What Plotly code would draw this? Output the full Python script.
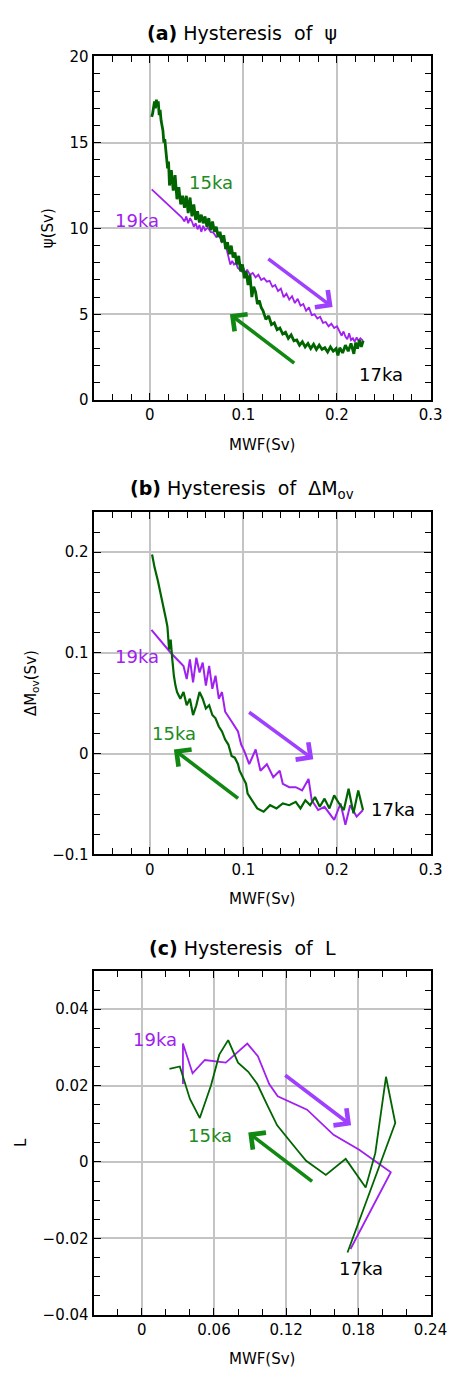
import plotly.graph_objects as go

# ---------------- data ----------------
# (a) psi vs MWF
a_green_x = [0.228,0.226,0.224,0.222,0.220,0.218,0.215,0.212,0.209,0.206,0.203,0.201,0.199,0.196,0.193,0.190,0.187,0.184,0.181,0.178,
             0.175,0.172,0.169,0.166,0.163,0.160,0.157,0.154,0.151,0.148,0.145,0.142,0.139,0.136,0.133,0.130,0.127,0.124,0.121,0.119,
             0.117,0.115,0.113,0.111,0.109,0.107,0.105,0.103,0.101,0.099,0.097,0.095,0.093,0.091,0.089,0.087,0.085,0.083,0.081,0.079,
             0.077,0.075,0.073,0.071,0.069,0.067,0.065,0.063,0.061,0.059,0.057,0.055,0.053,0.051,0.049,0.047,0.045,0.043,0.041,0.039,
             0.037,0.035,0.033,0.031,0.029,0.027,0.025,0.023,0.021,0.020,0.019,0.018,0.017,0.016,0.015,0.014,0.013,0.012,0.011,0.010,
             0.009,0.008,0.007,0.006,0.005,0.004,0.003,0.002]
a_green_y = [3.45,3.1,3.5,3.0,3.35,2.7,3.3,2.85,3.2,2.75,3.05,2.6,3.0,2.85,3.1,2.8,3.05,2.95,3.2,2.95,
             3.25,3.0,3.3,3.1,3.4,3.2,3.5,3.45,3.8,3.6,3.95,3.85,4.2,4.1,4.5,4.4,4.9,4.7,5.2,5.4,
             5.8,5.6,6.3,6.6,6.0,7.3,6.7,7.5,7.1,7.9,7.5,8.4,7.9,8.6,8.3,9.0,8.5,9.2,8.8,9.6,
             9.2,9.8,9.5,10.1,9.8,10.4,9.9,10.6,10.1,10.7,10.3,10.8,10.35,11.0,10.5,11.4,10.7,11.8,10.9,11.9,
             11.2,11.9,11.4,12.4,11.7,13.1,12.2,13.4,12.5,13.9,13.5,14.3,14.6,15.2,15.0,15.7,16.0,16.3,16.9,16.6,
             17.4,17.1,17.5,17.0,17.4,16.9,16.7,16.5]
a_purple_x = [0.002,0.010,0.018,0.026,0.034,0.037,0.039,0.041,0.043,0.045,0.047,0.049,0.051,0.053,0.055,0.057,0.059,0.062,0.065,0.068,
              0.071,0.074,0.077,0.080,0.082,0.084,0.086,0.088,0.090,0.092,0.094,0.096,0.098,0.100,0.102,0.104,0.107,0.110,0.113,0.116,
              0.119,0.122,0.125,0.128,0.131,0.134,0.137,0.140,0.143,0.146,0.149,0.152,0.155,0.158,0.161,0.164,0.167,0.170,0.173,0.176,
              0.179,0.182,0.185,0.188,0.191,0.194,0.197,0.200,0.203,0.205,0.207,0.209,0.211,0.213,0.215,0.217,0.219,0.221,0.223,0.225,0.228]
a_purple_y = [12.28,11.85,11.45,11.05,10.65,10.4,10.7,10.3,10.6,10.4,10.1,10.3,9.95,10.2,9.8,10.15,9.9,10.05,9.8,9.75,
              9.5,9.6,9.2,9.3,8.8,8.3,7.9,8.1,7.9,8.0,7.7,7.6,7.5,7.7,7.4,7.6,7.3,7.4,7.15,7.3,
              7.0,7.1,6.9,6.95,6.6,6.7,6.35,6.5,6.0,6.2,5.85,6.05,5.65,5.9,5.5,5.6,5.2,5.4,4.95,5.0,
              4.75,4.85,4.5,4.55,4.3,4.45,4.2,4.3,3.95,3.75,4.0,3.7,3.55,3.9,3.5,3.6,3.4,3.65,3.45,3.6,3.45]

# (b) Delta M_ov vs MWF
b_green_x = [0.2278,0.2227,0.2176,0.2124,0.2073,0.2022,0.1970,0.1919,0.1867,0.1816,0.1765,0.1713,0.1662,0.1610,0.1559,0.1490,0.1421,
             0.1354,0.1285,0.1216,0.1148,0.1096,0.1045,0.1028,0.0994,0.0959,0.0942,0.0908,0.0874,0.0839,0.0805,0.0771,0.0737,0.0702,
             0.0668,0.0634,0.0599,0.0565,0.0531,0.0497,0.0462,0.0428,0.0394,0.0360,0.0326,0.0291,0.0274,0.0257,0.0240,0.0223,0.0206,
             0.0188,0.0171,0.0154,0.0120,0.0086,0.0051,0.0034,0.0024]
b_green_y = [-0.0559,-0.0364,-0.0592,-0.0348,-0.0559,-0.0494,-0.0413,-0.0543,-0.0446,-0.0527,-0.0429,-0.0511,-0.0462,-0.0543,-0.0478,-0.0511,-0.0494,
             -0.0543,-0.0511,-0.0576,-0.0543,-0.0462,-0.0397,-0.0299,-0.0234,-0.0169,-0.0104,-0.0039,-0.0023,0.0091,0.0140,0.0221,0.0270,0.0351,
             0.0384,0.0481,0.0449,0.0546,0.0612,0.0481,0.0384,0.0546,0.0481,0.0612,0.0546,0.0612,0.0676,0.0774,0.0937,0.1132,0.1034,
             0.1262,0.1343,0.1424,0.1587,0.1717,0.1847,0.1912,0.1977]
b_purple_x = [0.0017,0.0223,0.0360,0.0394,0.0428,0.0462,0.0497,0.0531,0.0565,0.0599,0.0634,0.0668,0.0702,0.0737,0.0771,0.0805,0.0874,
              0.0942,0.0976,0.1010,0.1062,0.1131,0.1182,0.1251,0.1319,0.1388,0.1421,0.1490,0.1559,0.1627,0.1696,0.1730,0.1799,0.1867,
              0.1970,0.2038,0.2090,0.2141,0.2210,0.2278]
b_purple_y = [0.1229,0.1002,0.0871,0.0741,0.0937,0.0709,0.0953,0.0807,0.0904,0.0676,0.0871,0.0644,0.0774,0.0546,0.0612,0.0417,0.0319,
              0.0221,0.0091,0.0026,-0.0104,0.0042,-0.0169,-0.0104,-0.0234,-0.0169,-0.0299,-0.0332,-0.0332,-0.0364,-0.0250,-0.0462,-0.0559,-0.0527,
              -0.0657,-0.0494,-0.0706,-0.0511,-0.0624,-0.0559]

# (c) L vs MWF
c_green_x = [0.171,0.2107,0.203,0.1941,0.1861,0.1695,0.1530,0.1446,0.1366,0.1290,0.1206,0.1125,0.1050,0.0960,0.0885,0.0800,0.0718,
             0.0644,0.0575,0.0482,0.0400,0.0316,0.023]
c_green_y = [-0.0237,0.0102,0.0223,0.0023,-0.0067,0.0008,-0.0034,-0.0015,0.0003,0.0032,0.0066,0.0096,0.0144,0.0204,0.0236,0.0260,0.0319,
             0.0281,0.0200,0.0115,0.0165,0.0250,0.0244]
c_purple_x = [0.0342,0.0342,0.0422,0.0524,0.0698,0.0877,0.0965,0.1059,0.1130,0.1374,0.1594,0.1807,0.2070,0.1735]
c_purple_y = [0.0204,0.0310,0.0232,0.0267,0.0260,0.0310,0.0277,0.0204,0.0172,0.0137,0.0071,0.0032,-0.0027,-0.0228]

# annotations: (panel, text, x, y, colour)
labels = [
    (1, "15ka", 0.065, 12.66, "#228B22"),
    (1, "19ka", -0.0137, 10.46, "#A020F0"),
    (1, "17ka", 0.2467, 1.51, "black"),
    (2, "19ka", -0.0137, 0.0969, "#A020F0"),
    (2, "15ka", 0.0257, 0.0205, "#228B22"),
    (2, "17ka", 0.260, -0.0553, "black"),
    (3, "19ka", 0.011, 0.032, "#A020F0"),
    (3, "15ka", 0.0565, 0.007, "#228B22"),
    (3, "17ka", 0.182, -0.028, "black"),
]
# arrows: (panel, tail_x, tail_y, head_x, head_y, colour)
arrows = [
    (1, 0.125, 8.29, 0.1953, 5.42, "#A040FF"),
    (1, 0.1559, 2.09, 0.0856, 5.0, "#118811"),
    (2, 0.1045, 0.0423, 0.1747, -0.0055, "#A040FF"),
    (2, 0.0959, -0.0455, 0.0257, 0.0042, "#118811"),
    (3, 0.118, 0.023, 0.174, 0.0096, "#A040FF"),
    (3, 0.1428, -0.0054, 0.0885, 0.0077, "#118811"),
]
titles = ["<b>(a)</b> Hysteresis  of  ψ", "<b>(b)</b> Hysteresis  of  ΔM<sub>ov</sub>", "<b>(c)</b> Hysteresis  of  L"]
ytitles = ["ψ(Sv)", "ΔM<sub>ov</sub>(Sv)", "L"]
xtitle = "MWF(Sv)"

# ---------------- figure ----------------
W, H = 468, 1382
FONT = "DejaVu Sans"
GREEN = "#006400"
PURPLE = "#A020F0"

fig = go.Figure()
series = [
    (a_green_x, a_green_y, a_purple_x, a_purple_y, 2.8, 1.8),
    (b_green_x, b_green_y, b_purple_x, b_purple_y, 2.2, 2.0),
    (c_green_x, c_green_y, c_purple_x, c_purple_y, 1.8, 1.8),
]
for i, (gx, gy, px, py, gw, pw) in enumerate(series, start=1):
    xa = "x" if i == 1 else f"x{i}"
    ya = "y" if i == 1 else f"y{i}"
    fig.add_trace(go.Scatter(x=px, y=py, mode="lines", line=dict(color=PURPLE, width=pw),
                             xaxis=xa, yaxis=ya, showlegend=False, hoverinfo="skip"))
    fig.add_trace(go.Scatter(x=gx, y=gy, mode="lines", line=dict(color=GREEN, width=gw),
                             xaxis=xa, yaxis=ya, showlegend=False, hoverinfo="skip"))

# pixel layout of plot areas (top, bottom)
boxes = [(49, 397), (510, 857), (975, 1323)]
xl, xr = 97, 446
xranges = [[-0.06, 0.3002], [-0.06, 0.3002], [-0.04, 0.2402]]
yranges = [[0, 20.02], [-0.1, 0.2402], [-0.04, 0.05]]
xdt = [0.1, 0.1, 0.06]
xminor = [0.02, 0.02, 0.02]
ydt = [5, 0.1, 0.02]
yminor = [1, 0.02, 0.005]

axis_common = dict(showline=True, linecolor="black", linewidth=2.2, mirror="allticks",
                   ticks="inside", ticklen=7, tickwidth=1.3, tickcolor="black",
                   showgrid=True, gridcolor="#C4C4C4", gridwidth=2, zeroline=False,
                   tickfont=dict(family=FONT, size=15, color="black"))
layout = dict(width=W, height=H, margin=dict(l=0, r=0, t=0, b=0),
              paper_bgcolor="white", plot_bgcolor="white", showlegend=False)
for i in range(3):
    t, b = boxes[i]
    suffix = "" if i == 0 else str(i + 1)
    layout["xaxis" + suffix] = dict(
        axis_common, domain=[xl / W, xr / W], range=xranges[i], tick0=0, dtick=xdt[i],
        anchor="y" + suffix,
        minor=dict(dtick=xminor[i], tick0=0, ticks="inside", ticklen=6, tickwidth=1.3, tickcolor="black", showgrid=False),
        title=dict(text=xtitle, font=dict(family=FONT, size=15, color="black"), standoff=16))
    layout["yaxis" + suffix] = dict(
        axis_common, domain=[1 - b / H, 1 - t / H], range=yranges[i], tick0=0, dtick=ydt[i],
        anchor="x" + suffix,
        minor=dict(dtick=yminor[i], tick0=0, ticks="inside", ticklen=6, tickwidth=1.3, tickcolor="black", showgrid=False),
        title=dict(text=ytitles[i], font=dict(family=FONT, size=15, color="black"), standoff=12))
fig.update_layout(**layout)

anns = []
title_y = [25, 487, 952]
for i in range(3):
    anns.append(dict(text=titles[i], x=251 / W, y=1 - title_y[i] / H, xref="paper", yref="paper",
                     showarrow=False, xanchor="center", yanchor="middle",
                     font=dict(family=FONT, size=19, color="black")))
for (p, txt, x, y, col) in labels:
    s = "" if p == 1 else str(p)
    anns.append(dict(text=txt, x=x, y=y, xref="x" + s, yref="y" + s, showarrow=False,
                     font=dict(family=FONT, size=18, color=col)))
for (p, tx, ty, hx, hy, col) in arrows:
    s = "" if p == 1 else str(p)
    anns.append(dict(text="", x=hx, y=hy, ax=tx, ay=ty, xref="x" + s, yref="y" + s,
                     axref="x" + s, ayref="y" + s, showarrow=True, arrowhead=4,
                     arrowsize=1.15, arrowwidth=3.6, arrowcolor=col, standoff=0))
fig.update_layout(annotations=anns)

fig.write_html("out.html")
